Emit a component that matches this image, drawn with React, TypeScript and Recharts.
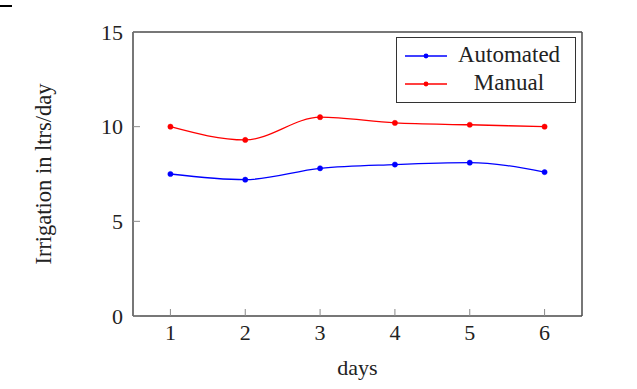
import React from "react";
import { LineChart, Line, XAxis, YAxis, Label } from "recharts";

const days = [1, 2, 3, 4, 5, 6];
const automated = [7.5, 7.2, 7.8, 8.0, 8.1, 7.6];
const manual = [10.0, 9.3, 10.5, 10.2, 10.1, 10.0];
const yTicks = [0, 5, 10, 15];
const seriesNames = ["Automated", "Manual"];
const seriesColors = ["#0000ff", "#ff0000"];

const data = days.map((d, i) => ({
  day: d,
  automated: automated[i],
  manual: manual[i],
}));

const FONT = "'Liberation Serif', 'Times New Roman', serif";
const FRAME = "#4a4a4a";
const TICK = "#8a8a8a";

const renderYLabel = (props: any) => {
  const vb = props.viewBox || { x: 0, y: 0, width: 0, height: 0 };
  const cx = vb.x + 51;
  const cy = vb.y + vb.height / 2;
  return (
    <text
      x={cx}
      y={cy}
      transform={`rotate(-90, ${cx}, ${cy})`}
      textAnchor="middle"
      fontFamily={FONT}
      fontSize={22.5}
      fill="#222"
    >
      Irrigation in ltrs/day
    </text>
  );
};

function LegendBox() {
  const keys = [automated, manual];
  return (
    <div
      style={{
        position: "absolute",
        left: 396,
        top: 37,
        width: 178,
        height: 64,
        border: "1px solid #333",
        background: "#fff",
        fontFamily: FONT,
        fontSize: 23,
        color: "#222",
      }}
    >
      {keys.map((_, i) => (
        <div
          key={seriesNames[i]}
          style={{
            position: "absolute",
            left: 0,
            top: 3 + i * 28,
            height: 28,
            width: 178,
            display: "flex",
            alignItems: "center",
          }}
        >
          <svg width={54} height={28} style={{ flex: "none" }}>
            <line x1={8} x2={50} y1={15} y2={15} stroke={seriesColors[i]} strokeWidth={1.3} />
            <circle cx={29} cy={15} r={2.4} fill={seriesColors[i]} />
          </svg>
          <span style={{ flex: 1, textAlign: "center", marginRight: 8 }}>{seriesNames[i]}</span>
        </div>
      ))}
    </div>
  );
}

export default function App() {
  return (
    <div style={{ position: "absolute", left: 0, top: 0, width: 637, height: 389, background: "#fff" }}>
      <div style={{ position: "absolute", left: 0, top: 5, width: 12, height: 2, background: "#000" }} />
      <LineChart
        width={637}
        height={389}
        data={data}
        margin={{ top: 30, right: 53, bottom: 0, left: 0 }}
        style={{ fontFamily: FONT }}
      >
        <XAxis
          xAxisId="bottom"
          dataKey="day"
          type="number"
          domain={[0.5, 6.5]}
          ticks={days}
          height={73}
          tickSize={-7}
          tickMargin={15}
          axisLine={{ stroke: FRAME, strokeWidth: 1.5 }}
          tickLine={{ stroke: TICK }}
          tick={{ fill: "#222", fontSize: 22, fontFamily: FONT }}
        >
          <Label value="days" position="insideBottom" offset={14} fill="#222" fontSize={22} fontFamily={FONT} />
        </XAxis>
        <XAxis
          xAxisId="top"
          orientation="top"
          dataKey="day"
          type="number"
          domain={[0.5, 6.5]}
          ticks={days}
          height={2}
          tickSize={-7}
          tick={false}
          axisLine={{ stroke: FRAME, strokeWidth: 1.5 }}
          tickLine={{ stroke: TICK }}
        />
        <YAxis
          yAxisId="left"
          type="number"
          domain={[0, 15]}
          ticks={yTicks}
          width={133}
          tickSize={-7}
          tickMargin={17}
          axisLine={{ stroke: FRAME, strokeWidth: 1.5 }}
          tickLine={{ stroke: TICK }}
          tick={{ fill: "#222", fontSize: 22, fontFamily: FONT }}
        >
          <Label content={renderYLabel} />
        </YAxis>
        <YAxis
          yAxisId="right"
          orientation="right"
          type="number"
          domain={[0, 15]}
          ticks={yTicks}
          width={2}
          tickSize={-7}
          tick={false}
          axisLine={{ stroke: FRAME, strokeWidth: 1.5 }}
          tickLine={{ stroke: TICK }}
        />
        <Line
          xAxisId="bottom"
          yAxisId="left"
          type="monotone"
          dataKey="automated"
          name={seriesNames[0]}
          stroke={seriesColors[0]}
          strokeWidth={1.3}
          dot={{ r: 2.6, fill: seriesColors[0], stroke: seriesColors[0], strokeWidth: 0.5 }}
          isAnimationActive={false}
        />
        <Line
          xAxisId="bottom"
          yAxisId="left"
          type="monotone"
          dataKey="manual"
          name={seriesNames[1]}
          stroke={seriesColors[1]}
          strokeWidth={1.3}
          dot={{ r: 2.6, fill: seriesColors[1], stroke: seriesColors[1], strokeWidth: 0.5 }}
          isAnimationActive={false}
        />
      </LineChart>
      <LegendBox />
    </div>
  );
}
